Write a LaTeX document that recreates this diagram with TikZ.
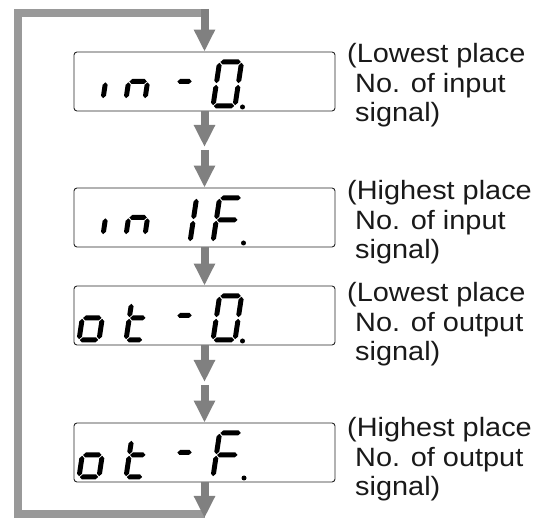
\documentclass[tikz,border=0pt]{standalone}
\usepackage{fontspec}
\newfontfamily\labfont[FakeStretch=1.09]{Liberation Sans}
\usetikzlibrary{arrows.meta}
\definecolor{arrowgray}{HTML}{808080}
\definecolor{loopgray}{HTML}{999999}
\newcommand\sgG{0.8}
\newcommand\sgT{2.5}
\newcommand\hseg[2]{\fill ({\sgG},{#2}) -- ({\sgG+\sgT},{#2+\sgT}) -- ({#1-\sgG-\sgT},{#2+\sgT}) -- ({#1-\sgG},{#2}) -- ({#1-\sgG-\sgT},{#2-\sgT}) -- ({\sgG+\sgT},{#2-\sgT}) -- cycle;}
\newcommand\vseg[3]{\fill ({#1},{#2+\sgG}) -- ({#1+\sgT},{#2+\sgG+\sgT}) -- ({#1+\sgT},{#3-\sgG-\sgT}) -- ({#1},{#3-\sgG}) -- ({#1-\sgT},{#3-\sgG-\sgT}) -- ({#1-\sgT},{#2+\sgG+\sgT}) -- cycle;}
\newcommand\segA[2]{\hseg{#1}{#2}}
\newcommand\segB[2]{\vseg{#1}{#2/2}{#2}}
\newcommand\segC[2]{\vseg{#1}{0}{#2/2}}
\newcommand\segD[2]{\hseg{#1}{0}}
\newcommand\segE[2]{\vseg{0}{0}{#2/2}}
\newcommand\segF[2]{\vseg{0}{#2/2}{#2}}
\newcommand\segG[2]{\hseg{#1}{#2/2}}
\newcommand\segT[2]{\vseg{0}{#2/2}{#2-7}}
\newcommand\sevseg[5]{\begin{scope}[shift={(#1,#2)},xslant=0.15]\foreach \segid in {#5}{\csname seg\segid\endcsname{#3}{#4}}\end{scope}}
\begin{document}
\begin{tikzpicture}[x=1pt,y=1pt,
  dispbox/.style={draw=black!85,line width=0.9pt,rounded corners=3pt,minimum width=261pt,minimum height=59pt,inner sep=0pt},
  flow/.style={draw=arrowgray,line width=8pt,-{Triangle[width=20pt,length=22pt]}},
  loopline/.style={draw=loopgray,line width=8pt},
  lab/.style={inner sep=0pt,align=left,text=black!90,font=\labfont\fontsize{26.5}{29.5}\selectfont}]
\useasboundingbox (0,0) rectangle (552,-518);
% display boxes
\node[dispbox] (d1) at (204.5,-81.5) {};
\node[dispbox] (d2) at (204.5,-217.5) {};
\node[dispbox] (d3) at (204.5,-315.5) {};
\node[dispbox] (d4) at (204.5,-452.5) {};
% seven-segment contents
% box 1: in - 0.
\sevseg{103}{-99}{19}{35}{E}
\sevseg{126}{-99}{19}{35}{G,E,C}
\sevseg{173}{-105}{16}{47}{G}
\sevseg{213}{-106}{22}{44}{A,B,C,D,E,F}
\fill (242.5,-107) circle (2.5);
% box 2: in 1F.
\sevseg{103}{-235}{19}{35}{E}
\sevseg{126}{-235}{19}{35}{G,E,C}
\sevseg{168}{-242}{22}{44}{B,C}
\sevseg{213}{-242}{22}{44}{A,E,F,G}
\fill (243.5,-243) circle (2.5);
% box 3: ot - 0.
\sevseg{79}{-340}{20}{44}{G,C,D,E}
\sevseg{126}{-340}{17}{44}{T,E,G,D}
\sevseg{173}{-339}{16}{47}{G}
\sevseg{213}{-340}{22}{44}{A,B,C,D,E,F}
\fill (242.5,-341) circle (2.5);
% box 4: ot - F.
\sevseg{79}{-477}{20}{44}{G,C,D,E}
\sevseg{126}{-477}{17}{44}{T,E,G,D}
\sevseg{173}{-476}{16}{47}{G}
\sevseg{213}{-477}{22}{44}{A,E,F,G}
\fill (244,-478) circle (2.5);
% coordinates
\coordinate (c1) at (204.5,-147);
\coordinate (c2) at (204.5,-150);
\coordinate (c3) at (204.5,-382);
\coordinate (c4) at (204.5,-385);
\coordinate (cb) at (204.5,-518);
\coordinate (lb) at (204.5,-514.5);
\coordinate (ll) at (17.5,-514.5);
\coordinate (lt) at (17.5,-13);
\coordinate (lr) at (204.5,-13);
\coordinate (ls) at (204.5,-9);
% loop
\draw[loopline] (lb) -- (ll) -- (lt) -- (lr);
% arrows
\draw[flow] (ls) -- (d1.north);
\draw[flow] (d1.south) -- (c1);
\draw[flow] (c2) -- (d2.north);
\draw[flow] (d2.south) -- (d3.north);
\draw[flow] (d3.south) -- (c3);
\draw[flow] (c4) -- (d4.north);
\draw[flow] (d4.south) -- (cb);
% labels (anchor = baseline of last line)
\node[lab,anchor=base west] (t1) at (347,-122) {(Lowest place\\\ No. of input\\\ signal)};
\node[lab,anchor=base west] (t2) at (347,-259) {(Highest place\\\ No. of input\\\ signal)};
\node[lab,anchor=base west] (t3) at (347,-361) {(Lowest place\\\ No. of output\\\ signal)};
\node[lab,anchor=base west] (t4) at (347,-496) {(Highest place\\\ No. of output\\\ signal)};
\end{tikzpicture}
\end{document}
